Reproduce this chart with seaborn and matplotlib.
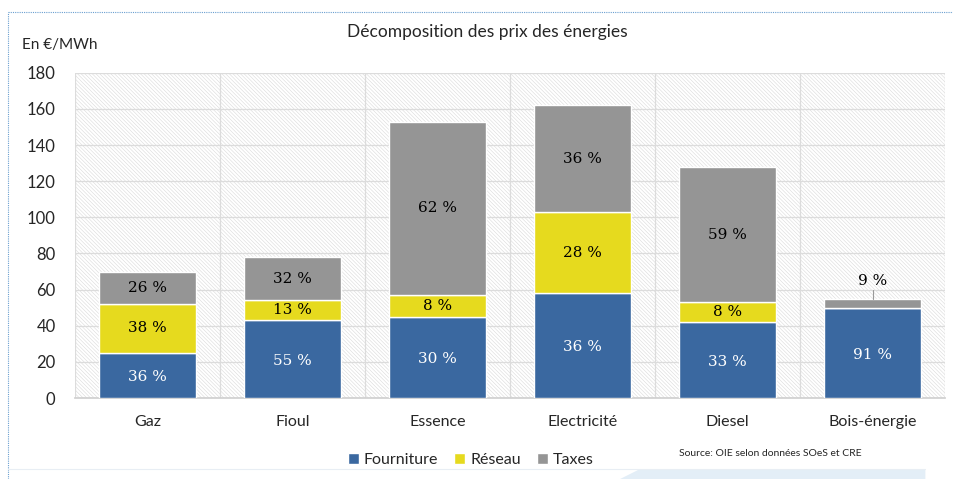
import numpy as np
import pandas as pd
import matplotlib.pyplot as plt
from matplotlib.patches import Rectangle, Polygon
from matplotlib.lines import Line2D
import seaborn as sns

# data (EUR/MWh)
energies = ["Gaz", "Fioul", "Essence", "Electricité", "Diesel", "Bois-énergie"]
fourniture = [25, 43, 45, 58, 42, 50]
reseau = [27, 11, 12, 45, 11, 0]
taxes = [18, 24, 96, 59, 75, 5]

lbl_fourniture = ["36 %", "55 %", "30 %", "36 %", "33 %", "91 %"]
lbl_reseau = ["38 %", "13 %", "8 %", "28 %", "8 %", ""]
lbl_taxes = ["26 %", "32 %", "62 %", "36 %", "59 %", "9 %"]

series = ["Fourniture", "Réseau", "Taxes"]
colors = ["#3A68A0", "#E6DA1E", "#959595"]

sns.set_theme(style="white")
plt.rcParams["font.family"] = ["Lato", "DejaVu Sans"]
plt.rcParams["hatch.linewidth"] = 0.4

fig = plt.figure(figsize=(9.54, 4.79), dpi=100)
ax = fig.add_axes([0.0786, 0.169, 0.912, 0.679])

# hatched plot background
ax.add_patch(Rectangle((0, 0), 1, 1, transform=ax.transAxes, facecolor="white",
                       edgecolor="#dadada", hatch="\\" * 9, lw=0, zorder=0))

df = pd.DataFrame({"energie": energies, "Fourniture": fourniture,
                   "Réseau": reseau, "Taxes": taxes})
bottoms = np.zeros(len(energies))
for name, col in zip(series, colors):
    sns.barplot(data=df, x="energie", y=name, order=energies, bottom=bottoms,
                color=col, saturation=1, width=0.67, errorbar=None, ax=ax,
                zorder=3, label=name)
    bottoms = bottoms + df[name].to_numpy()

# percentage labels
f = np.array(fourniture)
r = np.array(reseau)
t = np.array(taxes)
for i in range(len(energies)):
    ax.text(i, f[i] / 2 - 1, lbl_fourniture[i], ha="center", va="center",
            color="white", fontsize=11, family="DejaVu Serif", zorder=5)
    if lbl_reseau[i]:
        ax.text(i, f[i] + r[i] / 2, lbl_reseau[i], ha="center", va="center",
                color="black", fontsize=11, family="DejaVu Serif", zorder=5)
    if i == 5:
        top = f[i] + r[i] + t[i]
        ax.plot([i, i], [top, top + 5], color="#999999", lw=0.8, zorder=4)
        ax.text(i, top + 10, lbl_taxes[i], ha="center", va="center",
                color="black", fontsize=11, family="DejaVu Serif", zorder=5)
    else:
        ax.text(i, f[i] + r[i] + t[i] / 2, lbl_taxes[i], ha="center", va="center",
                color="black", fontsize=11, family="DejaVu Serif", zorder=5)

ax.set_ylim(0, 180)
ax.set_xlim(-0.5, 5.5)
ax.set_yticks(np.arange(0, 181, 20))
ax.set_xticks(np.arange(-0.5, 6, 1), minor=True)
ax.grid(axis="y", color="#dcdcdc", lw=0.9, zorder=1)
ax.grid(axis="x", which="minor", color="#dcdcdc", lw=0.9, zorder=1)
ax.grid(axis="x", which="major", visible=False)
for s in ax.spines.values():
    s.set_visible(False)
ax.spines["bottom"].set_visible(True)
ax.spines["bottom"].set_color("#d0d0d0")
ax.tick_params(axis="both", which="both", length=0)
ax.tick_params(axis="x", labelsize=11.5, pad=12)
ax.tick_params(axis="y", labelsize=12, pad=14)
ax.set_xlabel("")
ax.set_ylabel("")

ax.legend(loc="upper center", bbox_to_anchor=(0.455, -0.125), ncol=3, frameon=False,
          fontsize=11.5, handlelength=0.7, handleheight=0.7, handletextpad=0.3,
          columnspacing=1.0)

fig.text(0.511, 0.933, "Décomposition des prix des énergies", ha="center",
         va="center", fontsize=12.5)
fig.text(0.023, 0.906, "En €/MWh", ha="left", va="center", fontsize=11)
fig.text(0.712, 0.053, "Source: OIE selon données SOeS et CRE", ha="left",
         va="center", fontsize=7.5)

# dotted frame and decoration
fig.add_artist(Line2D([0.008, 1.0], [0.975, 0.975], color="#6a9fd0", lw=0.8,
                      ls=(0, (1, 1)), transform=fig.transFigure))
fig.add_artist(Line2D([0.008, 0.008], [0.0, 0.975], color="#6a9fd0", lw=0.8,
                      ls=(0, (1, 1)), transform=fig.transFigure))
fig.add_artist(Line2D([0.008, 0.97], [0.02, 0.02], color="#e8eef4", lw=0.8,
                      transform=fig.transFigure))
fig.add_artist(Polygon([[0.65, 0.0], [0.67, 0.02], [0.97, 0.02], [0.97, 0.0]],
                       closed=True, facecolor="#e3eef7", edgecolor="none",
                       transform=fig.transFigure))

fig.savefig("out.png", dpi=100)
